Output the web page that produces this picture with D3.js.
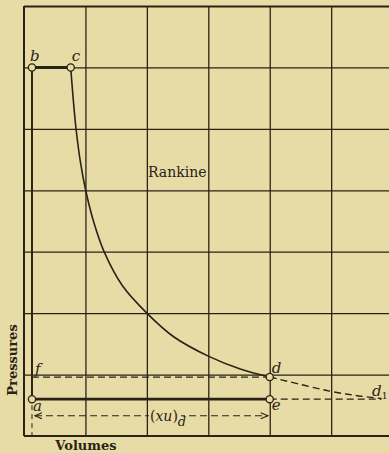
<!DOCTYPE html>
<html><head><meta charset="utf-8">
<script src="https://cdn.jsdelivr.net/npm/d3@7"></script>
<style>
html,body{margin:0;padding:0;background:#e8dca6;}
svg{display:block;}
</style></head>
<body>
<svg id="c" width="389" height="453"></svg>
<script>
// Data in grid units (volume, pressure)
const gridX = [1, 2, 3, 4, 5, 6];
const gridY = [1, 2, 3, 4, 5, 6, 7];
const pointA = [0.13, 0.60];
const pointB = [0.13, 6.0];
const pointC = [0.76, 6.0];
const pointD = [4.0, 0.96];
const pointE = [4.0, 0.60];
const pointD1 = [5.82, 0.61];
const curveSolid = [[0.76, 6.0], [0.80, 5.5], [0.846, 5.01], [0.92, 4.45], [1.004, 4.0], [1.13, 3.5], [1.30, 3.01], [1.6, 2.45], [2.0, 2.0], [2.43, 1.62], [3.0, 1.30], [3.52, 1.09], [4.0, 0.96]];
const curveDashed = [[4.0, 0.96], [4.5, 0.84], [4.98, 0.73], [5.4, 0.66], [5.82, 0.61]];
const labels = ["a", "b", "c", "d", "e", "f"];

const ink = "#2a2318";
const bg = "#e8dca6";
const font = "DejaVu Serif, Liberation Serif, serif";
const svg = d3.select("#c");
const x = d3.scaleLinear().domain([0, 6]).range([24, 392.6]);
const y = d3.scaleLinear().domain([0, 7]).range([436, 6]);

// grid through axes
const gx = svg.append("g").attr("transform", `translate(0,${y(0)})`)
  .call(d3.axisBottom(x).tickValues(gridX).tickSize(-(y(0) - y(7))).tickFormat(""));
gx.select(".domain").remove();
gx.selectAll("line").attr("stroke", ink).attr("stroke-width", 1.3);
const gy = svg.append("g").attr("transform", `translate(${x(0)},0)`)
  .call(d3.axisLeft(y).tickValues(gridY).tickSize(-(x(6) - x(0))).tickFormat(""));
gy.select(".domain").remove();
gy.selectAll("line").attr("stroke", ink).attr("stroke-width", 1.3);
gy.selectAll(".tick").filter(d => d === 7).select("line").attr("stroke-width", 2.2);

// frame left and bottom
svg.append("line").attr("x1", x(0)).attr("x2", x(0)).attr("y1", y(7)).attr("y2", y(0)).attr("stroke", ink).attr("stroke-width", 2);
svg.append("line").attr("x1", x(0)).attr("x2", x(6)).attr("y1", y(0)).attr("y2", y(0)).attr("stroke", ink).attr("stroke-width", 2);

const dash = "7,4";
// f dashed line
svg.append("line").attr("x1", x(pointA[0])).attr("x2", x(pointD[0])).attr("y1", y(pointD[1])).attr("y2", y(pointD[1]))
  .attr("stroke", ink).attr("stroke-width", 1.2).attr("stroke-dasharray", dash);
// e to d1 dashed
svg.append("line").attr("x1", x(pointE[0])).attr("x2", x(pointD1[0])).attr("y1", y(pointE[1])).attr("y2", y(pointE[1]))
  .attr("stroke", ink).attr("stroke-width", 1.2).attr("stroke-dasharray", dash);
// vertical dashed below a
svg.append("line").attr("x1", x(pointA[0])).attr("x2", x(pointA[0])).attr("y1", y(pointA[1]) + 6).attr("y2", y(0))
  .attr("stroke", ink).attr("stroke-width", 1).attr("stroke-dasharray", "5,4");

// thick lines
svg.append("line").attr("x1", x(pointA[0])).attr("x2", x(pointB[0])).attr("y1", y(pointA[1])).attr("y2", y(pointB[1])).attr("stroke", ink).attr("stroke-width", 2);
svg.append("line").attr("x1", x(pointB[0])).attr("x2", x(pointC[0])).attr("y1", y(pointB[1])).attr("y2", y(pointC[1])).attr("stroke", ink).attr("stroke-width", 3);
svg.append("line").attr("x1", x(pointA[0])).attr("x2", x(pointE[0])).attr("y1", y(pointA[1])).attr("y2", y(pointE[1])).attr("stroke", ink).attr("stroke-width", 2.6);

// curves
const line = d3.line().x(d => x(d[0])).y(d => y(d[1])).curve(d3.curveCatmullRom.alpha(0.5));
svg.append("path").attr("d", line(curveSolid)).attr("fill", "none").attr("stroke", ink).attr("stroke-width", 1.6);
svg.append("path").attr("d", line(curveDashed)).attr("fill", "none").attr("stroke", ink).attr("stroke-width", 1.4).attr("stroke-dasharray", dash);

// dimension arrow line
const yArr = 0.33;
const ax0 = x(pointA[0]) + 3, ax1 = x(pointE[0]) - 2, ay = y(yArr);
svg.append("line").attr("x1", ax0).attr("x2", ax1).attr("y1", ay).attr("y2", ay)
  .attr("stroke", ink).attr("stroke-width", 1.2).attr("stroke-dasharray", dash);
svg.append("path").attr("d", `M${ax0 + 7},${ay - 3}L${ax0},${ay}L${ax0 + 7},${ay + 3}`).attr("fill", "none").attr("stroke", ink).attr("stroke-width", 1.2);
svg.append("path").attr("d", `M${ax1 - 7},${ay - 3}L${ax1},${ay}L${ax1 - 7},${ay + 3}`).attr("fill", "none").attr("stroke", ink).attr("stroke-width", 1.2);
svg.append("rect").attr("x", 149).attr("y", ay - 9).attr("width", 32).attr("height", 18).attr("fill", bg);
const t = svg.append("text").attr("x", 150).attr("y", ay + 5).attr("font-family", font).attr("font-size", 14).attr("fill", ink);
t.append("tspan").text("(").attr("font-style", "normal");
t.append("tspan").text("xu").attr("font-style", "italic");
t.append("tspan").text(")").attr("font-style", "normal");
t.append("tspan").text("d").attr("font-style", "italic").attr("font-size", 13).attr("dy", 5);

// circles
[pointA, pointB, pointC, pointD, pointE].forEach(p => {
  svg.append("circle").attr("cx", x(p[0])).attr("cy", y(p[1])).attr("r", 3.6)
    .attr("fill", bg).attr("stroke", ink).attr("stroke-width", 1.3);
});

// point labels
const lab = (s, px, py) => svg.append("text").attr("x", px).attr("y", py).text(s)
  .attr("font-family", font).attr("font-style", "italic").attr("font-size", 15).attr("fill", ink);
lab(labels[1], x(pointB[0]) - 2, y(pointB[1]) - 6);
lab(labels[2], x(pointC[0]) + 1, y(pointC[1]) - 6);
lab(labels[0], x(pointA[0]) + 1, y(pointA[1]) + 12);
lab(labels[4], x(pointE[0]) + 2, y(pointE[1]) + 11);
lab(labels[3], x(pointD[0]) + 2, y(pointD[1]) - 4);
lab(labels[5], x(pointA[0]) + 3, y(pointD[1]) - 3);
const d1 = lab("d", 372, 396);
d1.append("tspan").text("1").attr("font-style", "normal").attr("font-size", 10).attr("dy", 3);

// titles
svg.append("text").attr("x", 148).attr("y", 177).text("Rankine")
  .attr("font-family", font).attr("font-size", 14).attr("fill", ink);
svg.append("text").attr("transform", "translate(17,360) rotate(-90)").attr("text-anchor", "middle").text("Pressures")
  .attr("font-family", font).attr("font-weight", "bold").attr("font-size", 13).attr("fill", ink);
svg.append("text").attr("x", 86).attr("y", 450).attr("text-anchor", "middle").text("Volumes")
  .attr("font-family", font).attr("font-weight", "bold").attr("font-size", 13).attr("fill", ink);
</script>
</body></html>
